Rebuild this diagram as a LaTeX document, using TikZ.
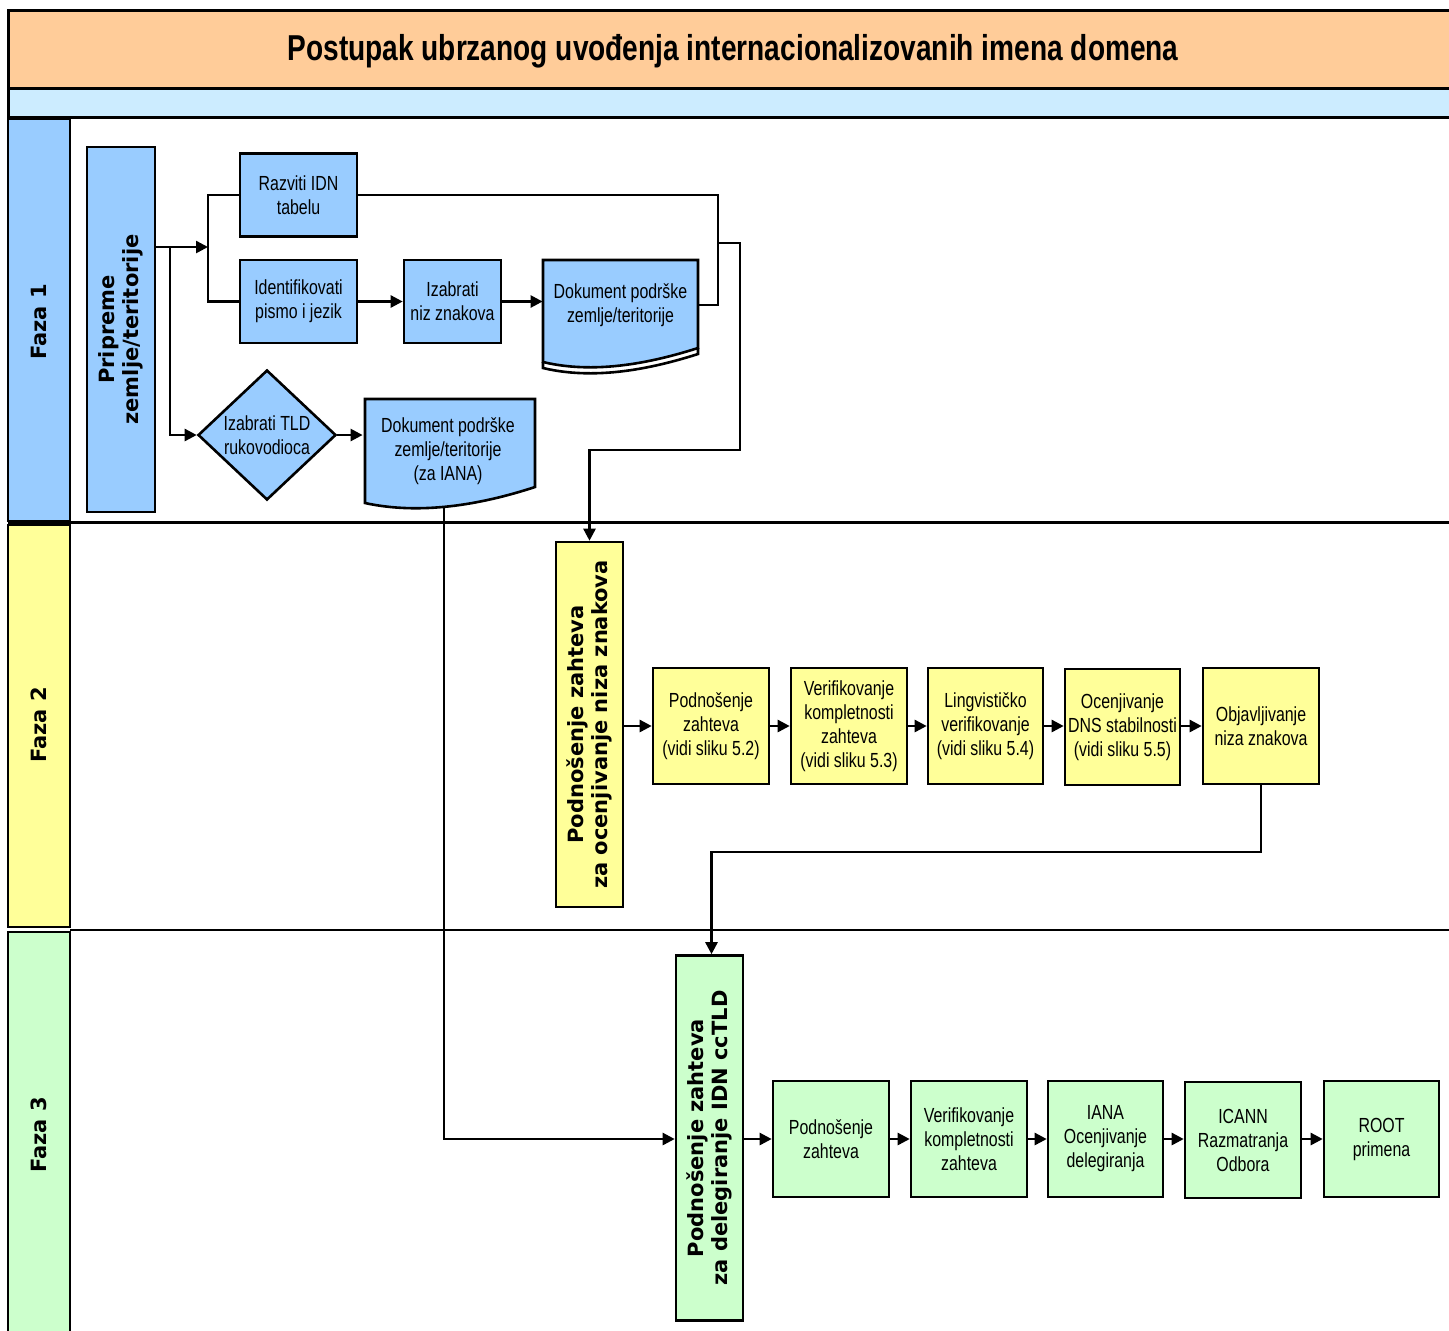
\documentclass[tikz,border=0pt]{standalone}
\usepackage{fontspec}
\setmainfont{Liberation Sans}
\newfontfamily\nfont[FakeStretch=0.78]{Liberation Sans}
\newfontfamily\vfont{DejaVu Sans}
\usetikzlibrary{arrows.meta,shapes.geometric}
\definecolor{peach}{HTML}{FFCC99}
\definecolor{band}{HTML}{CCECFF}
\definecolor{fblue}{HTML}{99CCFF}
\definecolor{fyellow}{HTML}{FFFF99}
\definecolor{fgreen}{HTML}{CCFFCC}
\begin{document}
\begin{tikzpicture}[x=0.5pt,y=-0.5pt,
  box/.style={draw, line width=1.3pt, minimum width=58pt, minimum height=58pt, inner sep=1pt, align=center, font=\nfont\fontsize{10.2}{12}\selectfont},
  vbox/.style={draw, line width=1.3pt, minimum width=33.5pt, minimum height=182.5pt, inner sep=0pt},
  vtext/.style={rotate=90, align=center, font=\vfont\bfseries\fontsize{10.5}{12}\selectfont},
  txt/.style={align=center, font=\nfont\fontsize{10.2}{12}\selectfont, inner sep=0pt},
  conn/.style={line width=1.25pt},
  arr/.style={line width=1.25pt, -{Triangle[length=6pt,width=6pt]}},
  lanebox/.style={draw, line width=1.3pt}
]
\useasboundingbox (0,0) rectangle (1449,1330);
% header
\draw[line width=1.5pt, fill=peach] (8,10) rectangle (1470,88);
\node[font=\nfont\bfseries\fontsize{18}{22}\selectfont] (title) at (733,51) {Postupak ubrzanog uvođenja internacionalizovanih imena domena};
\draw[line width=1.5pt, fill=band] (8,88) rectangle (1470,117);
% lanes
\draw[lanebox, fill=fblue] (8,119) rectangle (70,521);
\draw[lanebox, fill=fyellow] (8,525) rectangle (70,927);
\draw[lanebox, fill=fgreen] (8,932) rectangle (70,1340);
\draw[line width=1.3pt] (8,522.5) -- (1470,522.5);
\draw[line width=1.3pt] (70,930) -- (1470,930);
\node[vtext] (faza1) at (39,322) {Faza 1};
\node[vtext] (faza2) at (39,725) {Faza 2};
\node[vtext] (faza3) at (39,1135) {Faza 3};

% ---------- Faza 1 ----------
\node[vbox, fill=fblue, minimum width=34pt] (prep) at (121,329.5) {};
\node[vtext] (preptxt) at (prep.center) {Pripreme\\zemlje/teritorije};
\node[box, fill=fblue, minimum width=58.5pt, minimum height=41.5pt] (razviti) at (298.5,195) {Razviti IDN\\tabelu};
\node[box, fill=fblue, minimum width=58.5pt, minimum height=41.5pt] (ident) at (298.5,301.5) {Identifikovati\\pismo i jezik};
\node[box, fill=fblue, minimum width=48.5pt, minimum height=41.5pt] (izniz) at (452.5,301.5) {Izabrati\\niz znakova};
% document 1 (double bottom)
\draw[line width=1.3pt, fill=fblue] (543,260) -- (698,260) -- (698,348) .. controls (648,364) and (593,374) .. (543,362) -- cycle;
\draw[line width=1.3pt] (543,362) -- (543,368) .. controls (593,380) and (648,370) .. (698,354) -- (698,348);
\node[txt, minimum width=77.5pt, minimum height=44pt] (dok1) at (620.5,305) {Dokument podrške\\zemlje/teritorije};
% diamond
\node[diamond, draw, line width=1.3pt, fill=fblue, minimum width=69pt, minimum height=65pt, inner sep=0pt, align=center, font=\nfont\fontsize{10.2}{12}\selectfont] (tld) at (267,435) {Izabrati TLD\\rukovodioca};
% document 2
\draw[line width=1.3pt, fill=fblue] (365,399) -- (535,399) -- (535,487) .. controls (480,505) and (420,515) .. (365,503) -- cycle;
\node[txt, minimum width=85pt, minimum height=50.5pt] (dok2) at (448,451) {Dokument podrške\\zemlje/teritorije\\(za IANA)};
\coordinate (d2b) at (444,506);

% connectors Faza 1
\coordinate (f1) at (208,247);
\coordinate (f2) at (170,247);
\draw[arr] (prep.east |- f1) -- (f1);
\draw[conn] (razviti.west) -| (f1) |- (ident.west);
\draw[arr] (f2) |- (tld.west);
\draw[arr] (ident.east) -- (izniz.west);
\draw[arr] (izniz.east) -- (izniz.east -| dok1.west);
\coordinate (j1) at (718,243);
\coordinate (j2) at (740,450);
\draw[conn] (razviti.east) -| (j1) |- (dok1.east);
\draw[arr] (tld.east) -- (tld.east -| dok2.west);

% ---------- Faza 2 ----------
\node[vbox, fill=fyellow] (sub2) at (589.5,724.5) {};
\node[vtext] (sub2txt) at (sub2.center) {Podnošenje zahteva\\za ocenjivanje niza znakova};
\node[box, fill=fyellow] (b21) at (711,726) {Podnošenje\\zahteva\\(vidi sliku 5.2)};
\node[box, fill=fyellow] (b22) at (849,726) {Verifikovanje\\kompletnosti\\zahteva\\(vidi sliku 5.3)};
\node[box, fill=fyellow, minimum width=57.5pt] (b23) at (985.5,726) {Lingvističko\\verifikovanje\\(vidi sliku 5.4)};
\node[box, fill=fyellow, minimum width=57.5pt] (b24) at (1122.5,727) {Ocenjivanje\\DNS stabilnosti\\(vidi sliku 5.5)};
\node[box, fill=fyellow] (b25) at (1261,726) {Objavljivanje\\niza znakova};
\draw[arr] (j1) -| (j2) -| (sub2.north);
\draw[arr] (sub2.east |- b21.west) -- (b21.west);
\draw[arr] (b21.east) -- (b22.west);
\draw[arr] (b22.east) -- (b23.west);
\draw[arr] (b23.east) -- (b24.west |- b23.east);
\draw[arr] (b24.east |- b25.west) -- (b25.west);

% ---------- Faza 3 ----------
\node[vbox, fill=fgreen] (sub3) at (709.5,1138) {};
\node[vtext] (sub3txt) at (sub3.center) {Podnošenje zahteva\\za delegiranje IDN ccTLD};
\node[box, fill=fgreen] (b31) at (831,1139) {Podnošenje\\zahteva};
\node[box, fill=fgreen] (b32) at (969,1139) {Verifikovanje\\kompletnosti\\zahteva};
\node[box, fill=fgreen, minimum width=57.5pt] (b33) at (1105.5,1139) {IANA\\Ocenjivanje\\delegiranja};
\node[box, fill=fgreen] (b34) at (1243,1140) {ICANN\\Razmatranja\\Odbora};
\node[box, fill=fgreen, minimum width=57.5pt] (b35) at (1381.5,1139) {ROOT\\primena};
\coordinate (j3) at (711.5,852);
\draw[arr] (b25.south) |- (j3) -- (j3 |- sub3.north);
\draw[arr] (d2b) |- (sub3.west |- b31.west);
\draw[arr] (sub3.east |- b31.west) -- (b31.west);
\draw[arr] (b31.east) -- (b32.west);
\draw[arr] (b32.east) -- (b33.west);
\draw[arr] (b33.east) -- (b34.west |- b33.east);
\draw[arr] (b34.east |- b35.west) -- (b35.west);
\end{tikzpicture}
\end{document}
